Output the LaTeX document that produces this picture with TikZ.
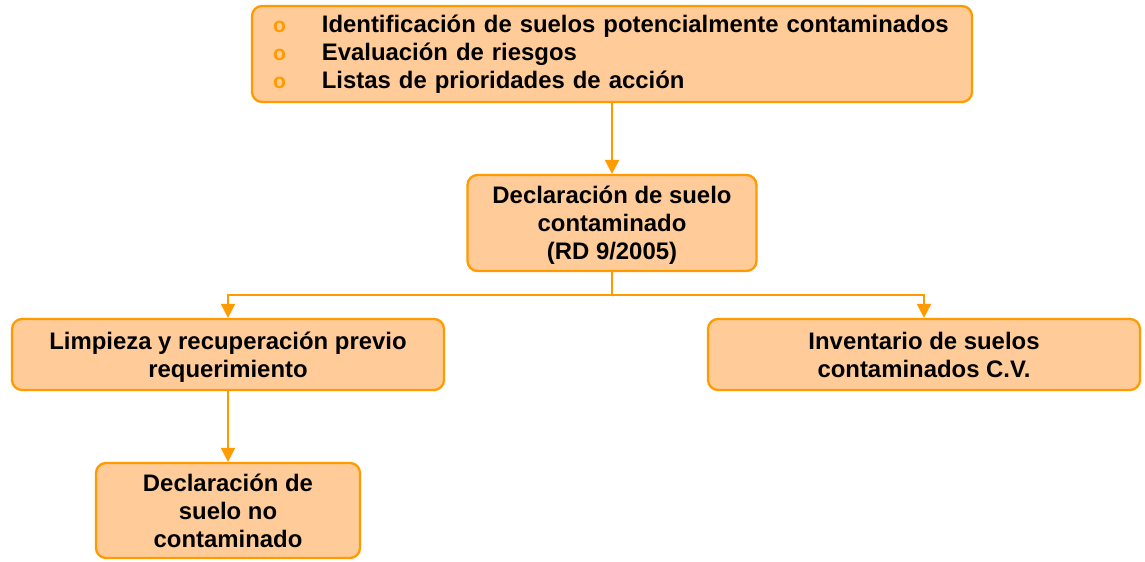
\documentclass[tikz,border=0pt]{standalone}
\usepackage{fontspec}
\setmainfont{Liberation Sans}
\usetikzlibrary{arrows.meta}
\definecolor{naranja}{HTML}{FF9A00}
\definecolor{relleno}{HTML}{FFCC99}
\newcommand{\bul}{\textcolor{naranja}{\fontsize{12}{12}\selectfont o}\hspace{0.72cm}}

\begin{document}
\begin{tikzpicture}[>={Triangle[length=0.28cm,width=0.28cm]},line width=1.1pt,
 bx/.style={draw=naranja,fill=relleno,rounded corners=0.2cm,line width=1.3pt,align=center,
  font=\bfseries\fontsize{13.6}{15.8}\selectfont,inner sep=0pt,text depth=-1pt},
 conn/.style={draw=naranja}]
\useasboundingbox (0,0) rectangle (22.9,-11.24);
\node[bx,minimum width=14.4cm,minimum height=1.92cm,align=left,text width=13.56cm,
 inner xsep=0.42cm,text depth=,font=\bfseries\fontsize{13.6}{16}\selectfont] (id) at (12.24,-1.08)
 {\bul Identificación de suelos potencialmente contaminados\\
  \bul Evaluación de riesgos\\
  \bul Listas de prioridades de acción};
\node[bx,minimum width=5.78cm,minimum height=1.92cm] (dec) at (12.24,-4.46)
 {Declaración de suelo\\contaminado\\(RD 9/2005)};
\node[bx,minimum width=8.64cm,minimum height=1.42cm] (lim) at (4.56,-7.09)
 {Limpieza y recuperación previo\\requerimiento};
\node[bx,minimum width=8.64cm,minimum height=1.42cm] (inv) at (18.48,-7.09)
 {Inventario de suelos\\contaminados C.V.};
\node[bx,minimum width=5.28cm,minimum height=1.9cm] (nocont) at (4.56,-10.21)
 {Declaración de\\suelo no\\contaminado};
\coordinate (rama) at (12.24,-5.9);
\draw[conn,->] (id) -- (dec);
\draw[conn] (dec) -- (rama);
\draw[conn,->] (rama) -| (lim);
\draw[conn,->] (rama) -| (inv);
\draw[conn,->] (lim) -- (nocont);
\end{tikzpicture}
\end{document}
